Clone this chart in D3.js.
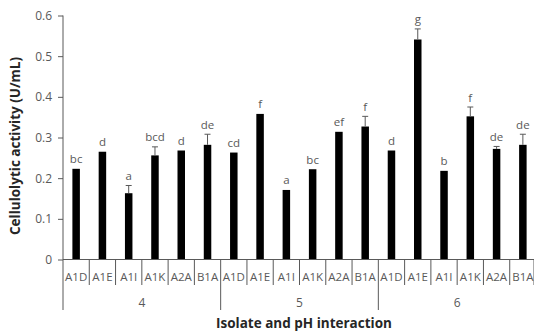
<!DOCTYPE html>
<html><head><meta charset="utf-8">
<script src="https://cdn.jsdelivr.net/npm/d3@7"></script>
<style>body{margin:0;background:#fff}svg{display:block}</style>
</head><body>
<svg id="c" width="534" height="332"></svg>
<script>
const groups = ["4", "5", "6"];
const isolates = ["A1D", "A1E", "A1I", "A1K", "A2A", "B1A"];
const values = [
  [0.223, 0.265, 0.163, 0.256, 0.268, 0.282],
  [0.263, 0.358, 0.171, 0.222, 0.314, 0.327],
  [0.268, 0.541, 0.218, 0.352, 0.272, 0.282]
];
const errors = [
  [0, 0, 0.019, 0.021, 0, 0.026],
  [0, 0, 0, 0, 0, 0.025],
  [0, 0.026, 0, 0.023, 0.006, 0.026]
];
const letters = [
  ["bc", "d", "a", "bcd", "d", "de"],
  ["cd", "f", "a", "bc", "ef", "f"],
  ["d", "g", "b", "f", "de", "de"]
];
const yTicks = [0, 0.1, 0.2, 0.3, 0.4, 0.5, 0.6];

(function () {
const rows = [];
groups.forEach((g, gi) => isolates.forEach((iso, ii) => rows.push({
  key: g + "-" + iso, g, iso, v: values[gi][ii], e: errors[gi][ii], l: letters[gi][ii]
})));

const svg = d3.select("#c");
const mL = 63, mR = 536, mT = 15.5, mB = 259.5;
const x = d3.scaleBand().domain(rows.map(d => d.key)).range([mL, mR]).paddingInner(0).paddingOuter(0);
const y = d3.scaleLinear().domain([0, 0.6]).range([mB, mT]);
const gray = "#595959";
const font = "'Open Sans', sans-serif";

// y axis
const yAxis = svg.append("g").attr("transform", `translate(${mL},0)`)
  .call(d3.axisLeft(y).tickValues(yTicks).tickFormat(d => d === 0 ? "0" : d3.format(".1f")(d)).tickSize(5).tickPadding(6));
yAxis.select(".domain").remove();
yAxis.selectAll("line").attr("stroke", gray);
yAxis.selectAll("text").attr("fill", gray).style("font-family", font).style("font-size", "12px");
svg.append("line").attr("x1", mL).attr("x2", mL).attr("y1", y(0.6)).attr("y2", 310)
  .attr("stroke", gray).attr("stroke-width", 1);

// bars
const bw = 7.5;
svg.append("g").selectAll("rect").data(rows).join("rect")
  .attr("x", d => x(d.key) + x.bandwidth() / 2 - bw / 2)
  .attr("y", d => y(d.v))
  .attr("width", bw)
  .attr("height", d => y(0) - y(d.v))
  .attr("fill", "#000");

// error bars
const eb = svg.append("g").attr("stroke", gray).attr("stroke-width", 1);
rows.filter(d => d.e > 0).forEach(d => {
  const cx = x(d.key) + x.bandwidth() / 2;
  eb.append("line").attr("x1", cx).attr("x2", cx).attr("y1", y(d.v)).attr("y2", y(d.v + d.e));
  eb.append("line").attr("x1", cx - 3).attr("x2", cx + 3).attr("y1", y(d.v + d.e)).attr("y2", y(d.v + d.e));
});

// letters
svg.append("g").selectAll("text").data(rows).join("text")
  .attr("x", d => x(d.key) + x.bandwidth() / 2)
  .attr("y", d => y(d.v + d.e) - 5.5)
  .attr("text-anchor", "middle")
  .attr("fill", gray).style("font-family", font).style("font-size", "11.5px")
  .text(d => d.l);

// x axis line
svg.append("line").attr("x1", mL).attr("x2", mR).attr("y1", y(0)).attr("y2", y(0))
  .attr("stroke", gray).attr("stroke-width", 1);

// category separators
const xa = svg.append("g");
rows.forEach((d, i) => {
  if (i === 0) return;
  const big = i % isolates.length === 0;
  xa.append("line").attr("x1", x(d.key)).attr("x2", x(d.key))
    .attr("y1", y(0)).attr("y2", big ? 310 : 285).attr("stroke", gray);
});
xa.append("line").attr("x1", mR - 2).attr("x2", mR - 2).attr("y1", y(0)).attr("y2", 285).attr("stroke", gray);
xa.selectAll("text.cat").data(rows).join("text").attr("class", "cat")
  .attr("x", d => x(d.key) + x.bandwidth() / 2).attr("y", 281)
  .attr("text-anchor", "middle").attr("fill", gray)
  .style("font-family", font).style("font-size", "11.5px").text(d => d.iso);

// group labels
groups.forEach((g, gi) => {
  const k0 = x(g + "-" + isolates[0]);
  const k1 = x(g + "-" + isolates[isolates.length - 1]) + x.bandwidth();
  xa.append("text").attr("x", (k0 + k1) / 2).attr("y", 307).attr("text-anchor", "middle")
    .attr("fill", gray).style("font-family", font).style("font-size", "12px").text(g);
});

// titles
svg.append("text").attr("x", 304).attr("y", 328).attr("text-anchor", "middle")
  .attr("fill", "#262626").style("font-family", font).style("font-weight", "bold").style("font-size", "13.5px")
  .text("Isolate and pH interaction");
svg.append("text").attr("transform", "translate(20,146) rotate(-90)").attr("text-anchor", "middle")
  .attr("fill", "#262626").style("font-family", font).style("font-weight", "bold").style("font-size", "13.5px")
  .text("Cellulolytic activity (U/mL)");
})();
</script>
</body></html>
